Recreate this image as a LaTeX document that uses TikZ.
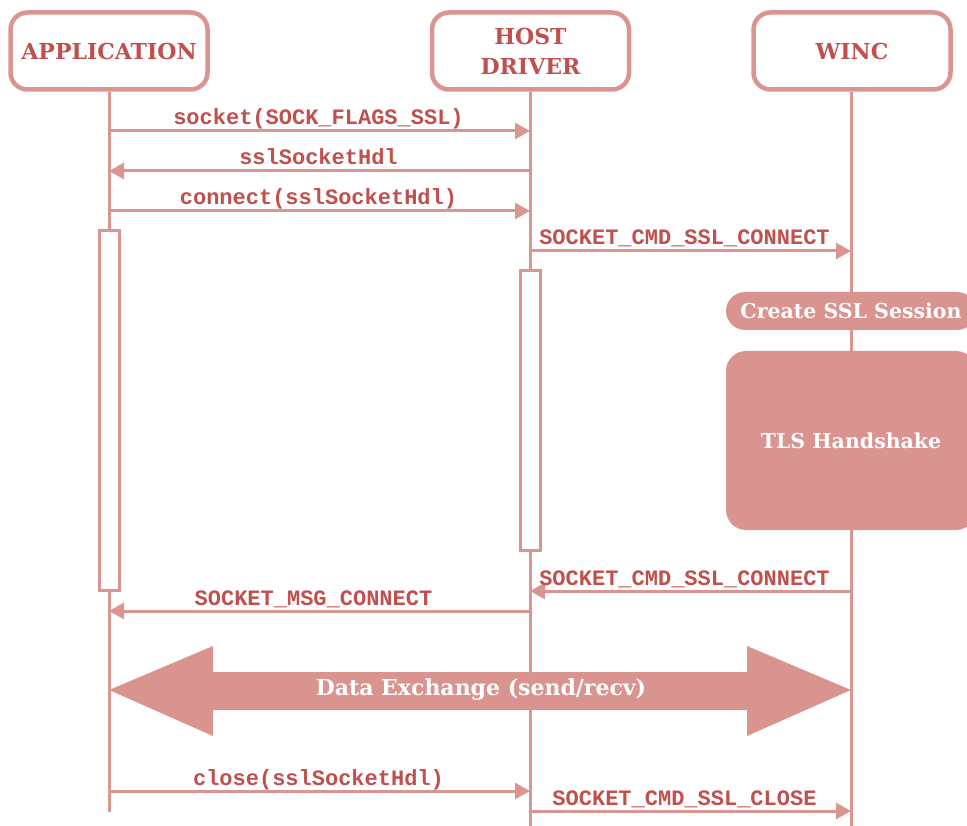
\documentclass[tikz,border=0pt]{standalone}
\usepackage{fontspec}
\setmainfont{DejaVu Serif}
\newfontfamily\monof{Liberation Mono}
\usetikzlibrary{arrows.meta}
\definecolor{ln}{HTML}{DA9590}
\definecolor{tx}{HTML}{C0504D}
\definecolor{fl}{HTML}{D9948F}
\begin{document}
\begin{tikzpicture}[x=1pt,y=-1pt,
  hdr/.style={draw=ln, line width=4.5pt, rounded corners=17pt, fill=white,
    minimum width=197pt, minimum height=77pt, inner sep=0pt,
    font=\bfseries\fontsize{22}{30}\selectfont, text=tx, align=center},
  life/.style={draw=ln, line width=3pt},
  msg/.style={draw=ln, line width=3pt, -{Triangle[length=15pt,width=16pt]}},
  lbl/.style={font=\monof\bfseries\fontsize{22}{22}\selectfont, text=tx,
    inner sep=0pt, anchor=base, yshift=6pt},
  act/.style={draw=ln, line width=3pt, fill=white},
  blk/.style={fill=fl, text=white, inner sep=0pt,
    font=\bfseries\fontsize{20.5}{24}\selectfont},
]
\useasboundingbox (0,0) rectangle (967,826);
\clip (0,0) rectangle (967,826);

% headers
\node[hdr] (app) at (109,51) {APPLICATION};
\node[hdr] (host) at (530.5,51) {HOST\\DRIVER};
\node[hdr] (winc) at (852,51) {WINC};

% lifeline end points
\coordinate (appE) at (109,812);
\coordinate (hostE) at (530,830);
\coordinate (wincE) at (851,830);

% data exchange arrow (behind lifelines)
\fill[fl] (109,690) -- (213,646) -- (213,672) -- (747,672) -- (747,646)
  -- (851,690) -- (747,736) -- (747,710) -- (213,710) -- (213,736) -- cycle;

% lifelines
\draw[life] (app.south) -- (appE);
\draw[life] (host.south -| hostE) -- (hostE);
\draw[life] (winc.south -| wincE) -- (wincE);

\node[blk, font=\bfseries\fontsize{22}{24}\selectfont] (dx) at (481,690) {Data Exchange (send/recv)};

% activation bars
\draw[act] (99,231) rectangle (119,590);
\draw[act] (520,271) rectangle (540,550);

% WINC blocks
\node[blk, rounded corners=19pt, minimum width=250pt, minimum height=38pt]
  (ssl) at (851,311) {Create SSL Session};
\node[blk, rounded corners=20pt, minimum width=250pt, minimum height=179pt]
  (tls) at (851,440.5) {TLS Handshake};

% message coordinates
\coordinate (a1) at (109,131); \coordinate (h1) at (530,131);
\coordinate (a2) at (109,171); \coordinate (h2) at (530,171);
\coordinate (a3) at (109,211); \coordinate (h3) at (530,211);
\coordinate (h4) at (530,251); \coordinate (w4) at (851,251);
\coordinate (h5) at (530,591); \coordinate (w5) at (851,591);
\coordinate (a6) at (109,611); \coordinate (h6) at (530,611);
\coordinate (a7) at (109,791); \coordinate (h7) at (530,791);
\coordinate (h8) at (530,811); \coordinate (w8) at (851,811);

\draw[msg] (a1) -- (h1) node[lbl, midway, xshift=-1pt] (m1) {socket(SOCK\_FLAGS\_SSL)};
\draw[msg] (h2) -- (a2) node[lbl, midway, xshift=-1pt] (m2) {sslSocketHdl};
\draw[msg] (a3) -- (h3) node[lbl, midway, xshift=-1pt] (m3) {connect(sslSocketHdl)};
\draw[msg] (h4) -- (w4) node[lbl, midway, xshift=-6pt] (m4) {SOCKET\_CMD\_SSL\_CONNECT};
\draw[msg] (w5) -- (h5) node[lbl, midway, xshift=-6pt] (m5) {SOCKET\_CMD\_SSL\_CONNECT};
\draw[msg] (h6) -- (a6) node[lbl, midway, xshift=-6pt] (m6) {SOCKET\_MSG\_CONNECT};
\draw[msg] (a7) -- (h7) node[lbl, midway, xshift=-1pt] (m7) {close(sslSocketHdl)};
\draw[msg] (h8) -- (w8) node[lbl, midway, xshift=-6pt] (m8) {SOCKET\_CMD\_SSL\_CLOSE};
\end{tikzpicture}
\end{document}
